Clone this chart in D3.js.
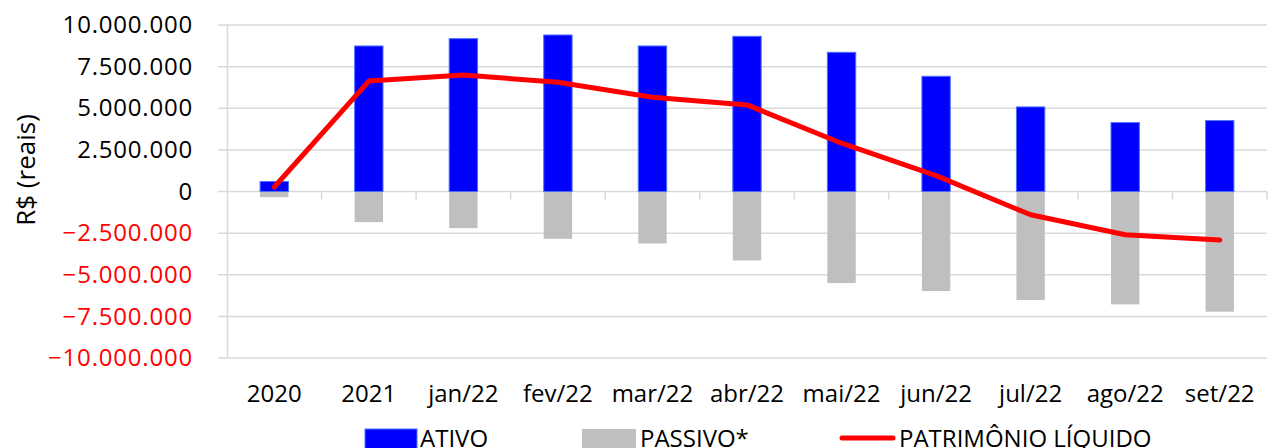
<!DOCTYPE html>
<html>
<head>
    <meta charset="utf-8">
    <script src="https://cdn.jsdelivr.net/npm/d3@7"></script>
    <style>
        body { margin: 0; background: #fff; }
        text { font-family: "Open Sans", sans-serif; }
    </style>
</head>
<body>
    <svg id="chart"></svg>
    <script>
        const categories = ["2020", "2021", "jan/22", "fev/22", "mar/22", "abr/22", "mai/22", "jun/22", "jul/22", "ago/22", "set/22"];
        const ativo = [600000, 8740000, 9180000, 9400000, 8740000, 9320000, 8360000, 6920000, 5080000, 4140000, 4260000];
        const passivo = [-340000, -1840000, -2200000, -2840000, -3120000, -4140000, -5500000, -5980000, -6520000, -6780000, -7220000];
        const patrimonio = [270000, 6630000, 7000000, 6560000, 5660000, 5200000, 2900000, 950000, -1400000, -2600000, -2920000];
        const yTicks = [-10000000, -7500000, -5000000, -2500000, 0, 2500000, 5000000, 7500000, 10000000];
        const legendItems = ["ATIVO", "PASSIVO*", "PATRIMÔNIO LÍQUIDO"];

        const svgWidth = 1268;
        const svgHeight = 448;
        const plot = { left: 227, right: 1267, top: 25, bottom: 358 };

        const svg = d3.select("#chart")
            .attr("width", svgWidth)
            .attr("height", svgHeight);

        const xScale = d3.scaleBand()
            .domain(categories)
            .range([plot.left, plot.right])
            .padding(0);

        const yScale = d3.scaleLinear()
            .domain([-10000000, 10000000])
            .range([plot.bottom, plot.top]);

        const br = d3.formatLocale({ decimal: ",", thousands: ".", grouping: [3], currency: ["R$", ""] });
        const fmt = br.format(",.0f");

        // grid lines
        svg.append("g")
            .selectAll("line")
            .data(yTicks)
            .join("line")
            .attr("x1", plot.left - 9)
            .attr("x2", plot.right)
            .attr("y1", d => yScale(d))
            .attr("y2", d => yScale(d))
            .attr("stroke", "#d9d9d9")
            .attr("stroke-width", 1.5);

        // y axis
        const yAxis = svg.append("g")
            .attr("transform", `translate(${plot.left}, 0)`)
            .call(d3.axisLeft(yScale).tickValues(yTicks).tickFormat(fmt).tickSize(0).tickPadding(34));
        yAxis.select(".domain").attr("stroke", "#d9d9d9").attr("stroke-width", 1.5);
        yAxis.selectAll("text")
            .style("font-size", "24px")
            .style("font-family", "Open Sans, sans-serif")
            .style("letter-spacing", "0.8px")
            .attr("fill", d => d < 0 ? "#ff0000" : "#000");

        svg.append("text")
            .attr("transform", "rotate(-90)")
            .attr("x", -170)
            .attr("y", 35)
            .style("text-anchor", "middle")
            .style("font-size", "26px")
            .text("R$ (reais)");

        // category ticks at zero line
        const bounds = categories.map(c => xScale(c)).concat([plot.right]);
        svg.append("g")
            .selectAll("line")
            .data(bounds.slice(1))
            .join("line")
            .attr("x1", d => d)
            .attr("x2", d => d)
            .attr("y1", yScale(0))
            .attr("y2", yScale(0) + 8)
            .attr("stroke", "#d9d9d9")
            .attr("stroke-width", 1.5);

        const barW = xScale.bandwidth() * 0.3;
        const cx = c => xScale(c) + xScale.bandwidth() / 2;

        svg.append("g")
            .selectAll("rect")
            .data(categories)
            .join("rect")
            .attr("x", c => cx(c) - barW / 2)
            .attr("width", barW)
            .attr("y", (c, i) => yScale(0))
            .attr("height", (c, i) => yScale(passivo[i]) - yScale(0))
            .attr("fill", "#bfbfbf");

        svg.append("g")
            .selectAll("rect")
            .data(categories)
            .join("rect")
            .attr("x", c => cx(c) - barW / 2)
            .attr("width", barW)
            .attr("y", (c, i) => yScale(ativo[i]))
            .attr("height", (c, i) => yScale(0) - yScale(ativo[i]))
            .attr("fill", "#0000ff")
            .attr("stroke", "#4a72ff")
            .attr("stroke-width", 1);

        const line = d3.line()
            .x((d, i) => cx(categories[i]))
            .y(d => yScale(d));

        svg.append("path")
            .datum(patrimonio)
            .attr("fill", "none")
            .attr("stroke", "#ff0000")
            .attr("stroke-width", 5)
            .attr("stroke-linecap", "round")
            .attr("stroke-linejoin", "round")
            .attr("d", line);

        // x labels
        svg.append("g")
            .selectAll("text")
            .data(categories)
            .join("text")
            .attr("x", c => cx(c))
            .attr("y", 402)
            .style("text-anchor", "middle")
            .style("font-size", "24px")
            .text(c => c);

        // legend
        const legend = svg.append("g");
        legend.append("rect").attr("x", 365).attr("y", 429).attr("width", 52).attr("height", 22)
            .attr("fill", "#0000ff").attr("stroke", "#4a72ff");
        legend.append("text").attr("x", 420).attr("y", 447).style("font-size", "24px").text(legendItems[0]);
        legend.append("rect").attr("x", 582).attr("y", 429).attr("width", 54).attr("height", 22)
            .attr("fill", "#bfbfbf");
        legend.append("text").attr("x", 640).attr("y", 447).style("font-size", "24px").text(legendItems[1]);
        legend.append("line").attr("x1", 842).attr("x2", 893).attr("y1", 438).attr("y2", 438)
            .attr("stroke", "#ff0000").attr("stroke-width", 5).attr("stroke-linecap", "round");
        legend.append("text").attr("x", 899).attr("y", 447).style("font-size", "24px").text(legendItems[2]);
    </script>
</body>
</html>
